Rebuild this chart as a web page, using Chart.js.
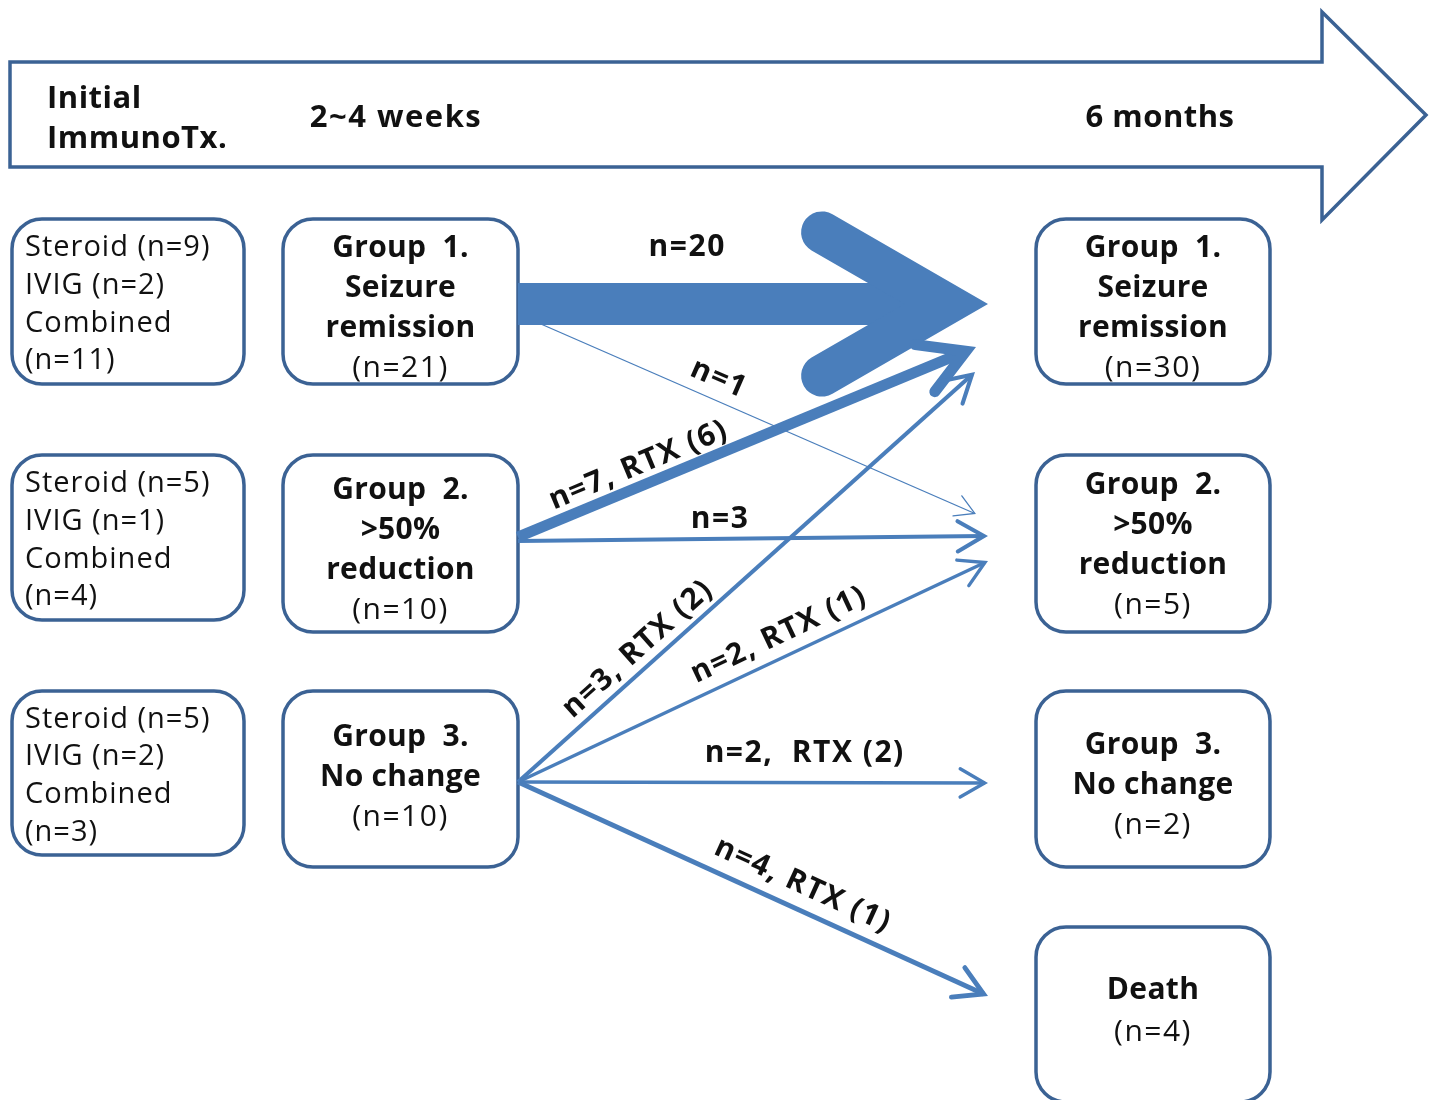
<!DOCTYPE html>
<html>
<head>
<meta charset="utf-8">
<script src="https://cdn.jsdelivr.net/npm/chart.js@4.4.1/dist/chart.umd.min.js"></script>
<style>
  html, body { margin: 0; padding: 0; background: #fff; }
  canvas { display: block; }
</style>
</head>
<body>
<canvas id="chart" width="1434" height="1100"></canvas>
<script>
// time points along the top arrow
var stageLabels = ['Initial\nImmunoTx.', '2~4 weeks', '6 months'];

// initial immunotherapy, per group at 2~4 weeks
var txNames = ['Steroid', 'IVIG', 'Combined'];
var txCounts = [[9, 2, 11], [5, 1, 4], [5, 2, 3]];

// groups at 2~4 weeks and at 6 months
var earlyGroups = [['Group  1.', 'Seizure', 'remission'], ['Group  2.', '>50%', 'reduction'], ['Group  3.', 'No change']];
var earlyN = [21, 10, 10];
var lateGroups = [['Group  1.', 'Seizure', 'remission'], ['Group  2.', '>50%', 'reduction'], ['Group  3.', 'No change'], ['Death']];
var lateN = [30, 5, 2, 4];

// flows from 2~4 weeks to 6 months
var flowFrom = [0, 0, 1, 1, 2, 2, 2, 2];
var flowTo = [0, 1, 0, 1, 0, 1, 2, 3];
var flowN = [20, 1, 7, 3, 3, 2, 2, 4];
var flowRtx = [0, 0, 6, 0, 2, 1, 2, 1];

// ---- layout (canvas units) ----
var BLUE = '#4A7EBB', EDGE = '#3B6294', INK = '#111';
var FONT = '"Open Sans", "Noto Sans", sans-serif';

var txCol = {x: 12, w: 232, rows: [[219, 165], [455, 165], [691, 164]]};
var earlyCol = {x: 283, w: 235, rows: [[219, 165], [455, 177], [691, 176]], shift: [3, 3, -6]};
var lateCol = {x: 1036, w: 234, rows: [[219, 165], [455, 177], [691, 176], [927, 175]], shift: [3, -2, 2, -7]};

// where each flow leaves its box and where its tip lands (y), tips stop at x=tipX
var srcY = [304, 314, 537, 541, 782, 782, 782, 782];
var dstY = [304, 514, 347, 536, 372, 561, 783, 996];
var tipX = [988, 976, 976, 988, 975, 988, 988, 988];
// label: fraction along the flow, offset away from the line
var labT = [0.36, 0.42, 0.28, 0.43, 0.29, 0.575, 0.61, 0.585];
var labD = [57, 21, 20, 19, 19, 22, 29, 24];

function flowWidth(n) {
  if (n === 1) return 1.3;
  return n < 5 ? 2 + 0.7 * n : 0.04 * n * n + 1.29 * n;
}

var flowLabels = flowN.map(function (n, i) {
  if (!flowRtx[i]) return 'n=' + n;
  var sep = Math.abs(srcY[i] - dstY[i]) < 3 ? ',  ' : ', ';
  return 'n=' + n + sep + 'RTX (' + flowRtx[i] + ')';
});

var datasets = flowN.map(function (n, i) {
  var x0 = earlyCol.x + earlyCol.w, y0 = srcY[i], x1 = tipX[i], y1 = dstY[i];
  var w = flowWidth(n);
  var len = Math.hypot(x1 - x0, y1 - y0);
  // shaft ends where the open head's vertex sits
  return {
    data: [{x: x0, y: y0}, {x: x1 - (x1 - x0) / len * w, y: y1 - (y1 - y0) / len * w}],
    tip: {x: x1, y: y1},
    showLine: true,
    borderColor: BLUE,
    borderWidth: w,
    borderCapStyle: 'butt',
    pointRadius: 0,
    pointHoverRadius: 0
  };
});

function roundBox(ctx, x, y, w, h, r) {
  ctx.beginPath();
  ctx.moveTo(x + r, y);
  ctx.arcTo(x + w, y, x + w, y + h, r);
  ctx.arcTo(x + w, y + h, x, y + h, r);
  ctx.arcTo(x, y + h, x, y, r);
  ctx.arcTo(x, y, x + w, y, r);
  ctx.closePath();
  ctx.stroke();
}

var diagram = {
  id: 'diagram',
  beforeDatasetsDraw: function (chart) {
    var ctx = chart.ctx, sx = chart.scales.x, sy = chart.scales.y;
    var X = function (v) { return sx.getPixelForValue(v); };
    var Y = function (v) { return sy.getPixelForValue(v); };
    ctx.save();
    ctx.strokeStyle = EDGE;
    ctx.lineWidth = 3.5;
    ctx.lineJoin = 'miter';
    // timeline arrow
    var pts = [[10, 62], [1322, 62], [1322, 12], [1426, 115], [1322, 220], [1322, 167], [10, 167]];
    ctx.beginPath();
    pts.forEach(function (p, k) { k ? ctx.lineTo(X(p[0]), Y(p[1])) : ctx.moveTo(X(p[0]), Y(p[1])); });
    ctx.closePath();
    ctx.stroke();
    // boxes
    [txCol, earlyCol, lateCol].forEach(function (col) {
      col.rows.forEach(function (r) {
        roundBox(ctx, X(col.x), Y(r[0]), X(col.x + col.w) - X(col.x), Y(r[0] + r[1]) - Y(r[0]), 30);
      });
    });
    ctx.restore();
  },
  afterDatasetsDraw: function (chart) {
    var ctx = chart.ctx, sx = chart.scales.x, sy = chart.scales.y;
    var X = function (v) { return sx.getPixelForValue(v); };
    var Y = function (v) { return sy.getPixelForValue(v); };
    ctx.save();
    // open arrow heads
    chart.data.datasets.forEach(function (ds, i) {
      var pts = chart.getDatasetMeta(i).data;
      var ax = pts[0].x, ay = pts[0].y;
      var tx = X(ds.tip.x), ty = Y(ds.tip.y);
      var a = Math.atan2(ty - ay, tx - ax);
      var w = ds.borderWidth;
      var vx = tx - Math.cos(a) * w, vy = ty - Math.sin(a) * w;
      var L = 18 + 3 * w, h = Math.PI / 6;
      ctx.strokeStyle = BLUE;
      ctx.lineWidth = w;
      ctx.lineCap = 'round';
      ctx.lineJoin = 'miter';
      ctx.miterLimit = 10;
      ctx.beginPath();
      ctx.moveTo(vx - Math.cos(a - h) * L, vy - Math.sin(a - h) * L);
      ctx.lineTo(vx, vy);
      ctx.lineTo(vx - Math.cos(a + h) * L, vy - Math.sin(a + h) * L);
      ctx.stroke();
    });

    ctx.fillStyle = INK;
    ctx.textBaseline = 'middle';

    // stage labels
    ctx.font = 'bold 31px ' + FONT;
    ctx.letterSpacing = '0.5px';
    ctx.textAlign = 'left';
    var first = stageLabels[0].split('\n');
    ctx.fillText(first[0], X(47), Y(99));
    ctx.fillText(first[1], X(47), Y(139));
    ctx.textAlign = 'center';
    ctx.letterSpacing = '1.5px';
    ctx.fillText(stageLabels[1], X(396), Y(118));
    ctx.letterSpacing = '0.5px';
    ctx.fillText(stageLabels[2], X(1160), Y(118));

    // treatment boxes
    ctx.font = '29px ' + FONT;
    ctx.letterSpacing = '1px';
    ctx.textAlign = 'left';
    txCounts.forEach(function (c, r) {
      var lines = [txNames[0] + ' (n=' + c[0] + ')', txNames[1] + ' (n=' + c[1] + ')', txNames[2], '(n=' + c[2] + ')'];
      var row = txCol.rows[r], mid = row[0] + row[1] / 2 + 3, lh = 37.6;
      lines.forEach(function (s, k) {
        ctx.fillText(s, X(txCol.x + 13), Y(mid + (k - (lines.length - 1) / 2) * lh));
      });
    });

    // group boxes
    function groupText(col, names, ns) {
      ctx.textAlign = 'center';
      names.forEach(function (nm, r) {
        var lines = nm.concat(['(n=' + ns[r] + ')']);
        var row = col.rows[r], mid = row[0] + row[1] / 2 + 4 + col.shift[r];
        var lh = lines.length === 2 ? 42 : 40;
        lines.forEach(function (s, k) {
          var bold = k < nm.length;
          ctx.font = (bold ? 'bold ' : '') + '30px ' + FONT;
          ctx.letterSpacing = bold ? '0.3px' : '1.5px';
          ctx.fillText(s, X(col.x + col.w / 2), Y(mid + (k - (lines.length - 1) / 2) * lh));
        });
      });
    }
    groupText(earlyCol, earlyGroups, earlyN);
    groupText(lateCol, lateGroups, lateN);

    // flow labels
    ctx.font = 'bold 30px ' + FONT;
    ctx.letterSpacing = '1.5px';
    chart.data.datasets.forEach(function (ds, i) {
      var pts = chart.getDatasetMeta(i).data;
      var x0 = pts[0].x, y0 = pts[0].y, x1 = X(ds.tip.x), y1 = Y(ds.tip.y);
      var a = Math.atan2(y1 - y0, x1 - x0);
      if (Math.abs(a) < 0.02) a = 0;
      var px = x0 + (x1 - x0) * labT[i] + Math.sin(a) * labD[i];
      var py = y0 + (y1 - y0) * labT[i] - Math.cos(a) * labD[i];
      ctx.save();
      ctx.translate(px, py);
      ctx.rotate(a);
      ctx.textAlign = 'center';
      ctx.fillText(flowLabels[i], 0, 0);
      ctx.restore();
    });
    ctx.restore();
  }
};

new Chart('chart', {
  type: 'scatter',
  data: {datasets: datasets},
  options: {
    responsive: false,
    animation: false,
    layout: {padding: 0},
    scales: {
      x: {type: 'linear', min: 0, max: 1434, display: false},
      y: {type: 'linear', min: 0, max: 1100, reverse: true, display: false}
    },
    plugins: {
      legend: {display: false},
      tooltip: {enabled: false}
    }
  },
  plugins: [diagram]
});
</script>
</body>
</html>
